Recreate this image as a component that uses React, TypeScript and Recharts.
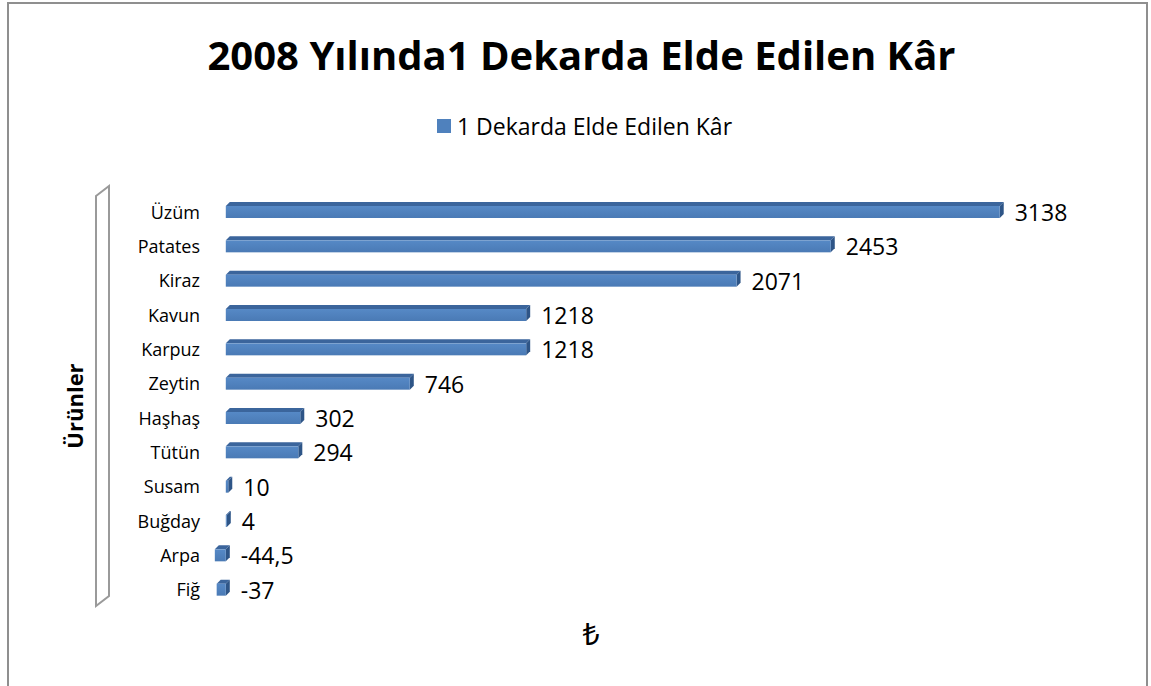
import React from "react";
import { Bar, BarChart, LabelList, XAxis, YAxis } from "recharts";

const products = [
  "Üzüm",
  "Patates",
  "Kiraz",
  "Kavun",
  "Karpuz",
  "Zeytin",
  "Haşhaş",
  "Tütün",
  "Susam",
  "Buğday",
  "Arpa",
  "Fiğ",
];
const profits = [3138, 2453, 2071, 1218, 1218, 746, 302, 294, 10, 4, -44.5, -37];
const seriesName = "1 Dekarda Elde Edilen Kâr";
const chartTitle = "2008 Yılında1 Dekarda Elde Edilen Kâr";
const categoryTitle = "Ürünler";
const valueTitle = "₺";

const data = products.map((name, i) => ({ name, value: profits[i] }));

const FONT = '"Open Sans", "Noto Sans", sans-serif';
const DEPTH = 4;
const FRONT = "#4F81BD";
const TOP = "#3B659C";
const SIDE = "#2E5587";

function formatValue(v: unknown) {
  return String(v).replace(".", ",");
}

function Bar3D(props: any) {
  const { x, y, width, height } = props;
  const left = Math.min(x, x + width);
  const w = Math.abs(width);
  const right = left + w;
  const bottom = y + height;
  return (
    <g>
      <polygon
        points={`${left},${y} ${left + DEPTH},${y - DEPTH} ${right + DEPTH},${y - DEPTH} ${right},${y}`}
        fill={TOP}
      />
      <polygon
        points={`${right},${y} ${right + DEPTH},${y - DEPTH} ${right + DEPTH},${bottom - DEPTH} ${right},${bottom}`}
        fill={SIDE}
      />
      <rect x={left} y={y} width={w} height={height} fill="url(#barFront)" />
    </g>
  );
}

function ValueLabel(props: any) {
  const { x, y, width, height, value } = props;
  const end = Math.max(x, x + width) + DEPTH + 11;
  return (
    <text
      x={end}
      y={y + height / 2}
      dominantBaseline="central"
      fontSize={23}
      fontFamily={FONT}
      fill="#000"
    >
      {formatValue(value)}
    </text>
  );
}

export default function App() {
  return (
    <div
      style={{
        position: "relative",
        width: 1151,
        height: 686,
        overflow: "hidden",
        background: "#fff",
        fontFamily: FONT,
      }}
    >
      <style>{"body{margin:0}"}</style>
      <div
        style={{
          position: "absolute",
          left: 7,
          top: 2,
          width: 1137,
          height: 720,
          border: "2px solid #8f8f8f",
        }}
      />
      <div
        style={{
          position: "absolute",
          left: 6,
          top: 27,
          width: 1151,
          textAlign: "center",
          fontSize: 40,
          fontWeight: 700,
          lineHeight: "56px",
          color: "#000",
        }}
      >
        {chartTitle}
      </div>
      <div
        style={{
          position: "absolute",
          left: 9,
          top: 110,
          width: 1151,
          display: "flex",
          justifyContent: "center",
          alignItems: "center",
          gap: 6,
          fontSize: 23,
          lineHeight: "32px",
          color: "#000",
        }}
      >
        <span style={{ display: "inline-block", width: 14, height: 14, background: FRONT }} />
        <span>{seriesName}</span>
      </div>
      <svg
        width={1151}
        height={686}
        style={{ position: "absolute", left: 0, top: 0 }}
      >
        <polygon
          points="96,196 109,186 109,596 96,606"
          fill="#fff"
          stroke="#9a9a9a"
          strokeWidth={2}
        />
        <text
          x={74}
          y={406}
          transform="rotate(-90 74 406)"
          textAnchor="middle"
          dominantBaseline="central"
          fontSize={22}
          fontWeight={700}
          fontFamily={FONT}
        >
          {categoryTitle}
        </text>
        <text
          x={591}
          y={633}
          textAnchor="middle"
          dominantBaseline="central"
          fontSize={30}
          fontFamily='"Noto Sans", "DejaVu Sans", sans-serif'
        >
          {valueTitle}
        </text>
      </svg>
      <div style={{ position: "absolute", left: 0, top: 0 }}>
        <BarChart
          width={1151}
          height={686}
          data={data}
          layout="vertical"
          margin={{ top: 195, right: 62, bottom: 79, left: 0 }}
        >
          <defs>
            <linearGradient id="barFront" x1="0" x2="0" y1="0" y2="1">
              <stop offset="0%" stopColor="#5689C6" />
              <stop offset="100%" stopColor="#4A7AB5" />
            </linearGradient>
          </defs>
          <XAxis type="number" domain={[-60, 3500]} hide />
          <YAxis
            type="category"
            dataKey="name"
            width={211}
            axisLine={false}
            tickLine={false}
            tickSize={0}
            tickMargin={11}
            interval={0}
            tick={{ fill: "#000", fontSize: 18, fontFamily: FONT }}
          />
          <Bar
            dataKey="value"
            name={seriesName}
            barSize={12}
            shape={<Bar3D />}
            isAnimationActive={false}
          >
            <LabelList dataKey="value" content={<ValueLabel />} />
          </Bar>
        </BarChart>
      </div>
    </div>
  );
}
